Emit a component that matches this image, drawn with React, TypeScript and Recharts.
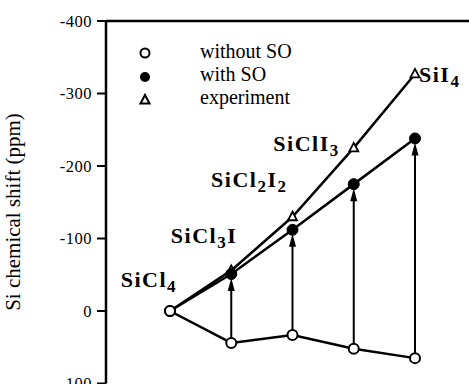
import { LineChart, Line, XAxis, YAxis, ReferenceLine, Legend, LabelList, Label } from 'recharts';

const compounds = ['SiCl4', 'SiCl3I', 'SiCl2I2', 'SiClI3', 'SiI4'];
const withoutSO = [0, 44, 33, 52, 65];
const withSO = [0, -51, -112, -175, -238];
const experiment = [0, -56, -130, -225, -327];
const yTicks = [-400, -300, -200, -100, 0, 100];
const legendNames = ['without SO', 'with SO', 'experiment'];

const data = compounds.map((name, i) => ({
  name,
  without: withoutSO[i],
  withSO: withSO[i],
  exp: experiment[i],
}));

const FONT = '"Liberation Serif", "Times New Roman", serif';

// where each formula sits relative to its experiment point
const labelPos = [
  { dx: 7, dy: -24, anchor: 'end' },
  { dx: 6, dy: -27, anchor: 'end' },
  { dx: -5, dy: -30, anchor: 'end' },
  { dx: -14, dy: 3, anchor: 'end' },
  { dx: 4, dy: 8, anchor: 'start' },
];

const Formula = ({ x, y, text, anchor }: any) => {
  const parts: string[] = text.match(/[A-Za-z]+|\d+/g) || [];
  return (
    <text x={x} y={y} textAnchor={anchor} fontFamily={FONT} fontWeight="bold" fontSize={22} letterSpacing={1.5} fill="#000">
      {parts.map((p, i) =>
        /\d/.test(p) ? (
          <tspan key={i} fontSize={17} dy={5}>{p}</tspan>
        ) : (
          <tspan key={i} dy={i === 0 ? 0 : -5}>{p}</tspan>
        )
      )}
    </text>
  );
};

const renderFormula = (props: any) => {
  const { x, y, index, value } = props;
  const pos = labelPos[index];
  return <Formula key={index} x={x + pos.dx} y={y + pos.dy} text={value} anchor={pos.anchor} />;
};

const Triangle = (props: any) => {
  const { cx, cy, index } = props;
  // the first triangle is hidden behind the open circle in the original
  if (cx == null || cy == null || index === 0) return <g key={`t${index}`} />;
  return (
    <polygon
      key={`t${index}`}
      points={`${cx},${cy - 5} ${cx - 4.5},${cy + 3.5} ${cx + 4.5},${cy + 3.5}`}
      fill="#fff"
      stroke="#000"
      strokeWidth={1.8}
    />
  );
};

const Arrow = (props: any) => {
  const { x1, y1, x2, y2 } = props;
  const top = Math.min(y1, y2);
  const bottom = Math.max(y1, y2);
  const tip = top + 4;
  return (
    <g>
      <line x1={x1} y1={bottom} x2={x2} y2={tip + 8} stroke="#000" strokeWidth={2} />
      <polygon points={`${x2},${tip} ${x2 - 3.5},${tip + 13} ${x2 + 3.5},${tip + 13}`} fill="#000" />
    </g>
  );
};

const renderLegend = () => (
  <svg width={200} height={72} style={{ display: 'block' }}>
    <circle cx={15} cy={13} r={4.5} fill="#fff" stroke="#000" strokeWidth={2} />
    <circle cx={15} cy={37} r={5} fill="#000" />
    <polygon points="15,55 10.5,63.5 19.5,63.5" fill="#fff" stroke="#000" strokeWidth={2} />
    {legendNames.map((n, i) => (
      <text key={n} x={70} y={18 + i * 23} fontFamily={FONT} fontSize={20} fill="#000">
        {n}
      </text>
    ))}
  </svg>
);

const YLabel = () => (
  <text
    transform="translate(13,212) rotate(-90)"
    textAnchor="middle"
    dominantBaseline="central"
    fontFamily={FONT}
    fontSize={21}
    fill="#000"
  >
    Si chemical shift (ppm)
  </text>
);

export default function App() {
  return (
    <div style={{ position: 'fixed', top: 0, left: 0, width: 469, height: 384, overflow: 'hidden', background: '#fff' }}>
      <LineChart width={490} height={400} data={data} margin={{ top: 21, right: 10, left: 0, bottom: 16.5 }}>
        <XAxis
          dataKey="name"
          mirror
          height={0}
          padding={{ left: 64, right: 65 }}
          tick={() => <g />}
          tickSize={8}
          tickLine={{ stroke: '#000', strokeWidth: 2 }}
          axisLine={{ stroke: '#999', strokeWidth: 1.5 }}
        />
        <YAxis
          type="number"
          reversed
          domain={[-400, 100]}
          ticks={yTicks}
          width={106}
          tickSize={9}
          tickMargin={5}
          tick={{ fontSize: 16.5, fill: '#000', fontFamily: FONT, letterSpacing: 0.5 }}
          tickLine={{ stroke: '#000', strokeWidth: 2 }}
          axisLine={{ stroke: '#000', strokeWidth: 2.5 }}
          label={<Label content={YLabel} />}
        />
        <ReferenceLine y={-400} stroke="#000" strokeWidth={2.5} />
        {compounds.slice(1).map((name, k) => (
          <ReferenceLine
            key={name}
            segment={[
              { x: name, y: withoutSO[k + 1] },
              { x: name, y: withSO[k + 1] },
            ]}
            shape={Arrow}
          />
        ))}
        <Legend
          layout="vertical"
          align="center"
          verticalAlign="middle"
          content={renderLegend}
          wrapperStyle={{ position: 'absolute', left: 130, top: 40, width: 200 }}
        />
        <Line
          dataKey="exp"
          stroke="#000"
          strokeWidth={2.5}
          isAnimationActive={false}
          dot={Triangle}
          activeDot={false}
        >
          <LabelList dataKey="name" content={renderFormula} />
        </Line>
        <Line
          dataKey="withSO"
          stroke="#000"
          strokeWidth={2.5}
          isAnimationActive={false}
          dot={{ r: 5.5, fill: '#000', stroke: '#000', strokeWidth: 1 }}
          activeDot={false}
        />
        <Line
          dataKey="without"
          stroke="#000"
          strokeWidth={2.5}
          isAnimationActive={false}
          dot={{ r: 5, fill: '#fff', stroke: '#000', strokeWidth: 2 }}
          activeDot={false}
        />
      </LineChart>
    </div>
  );
}
